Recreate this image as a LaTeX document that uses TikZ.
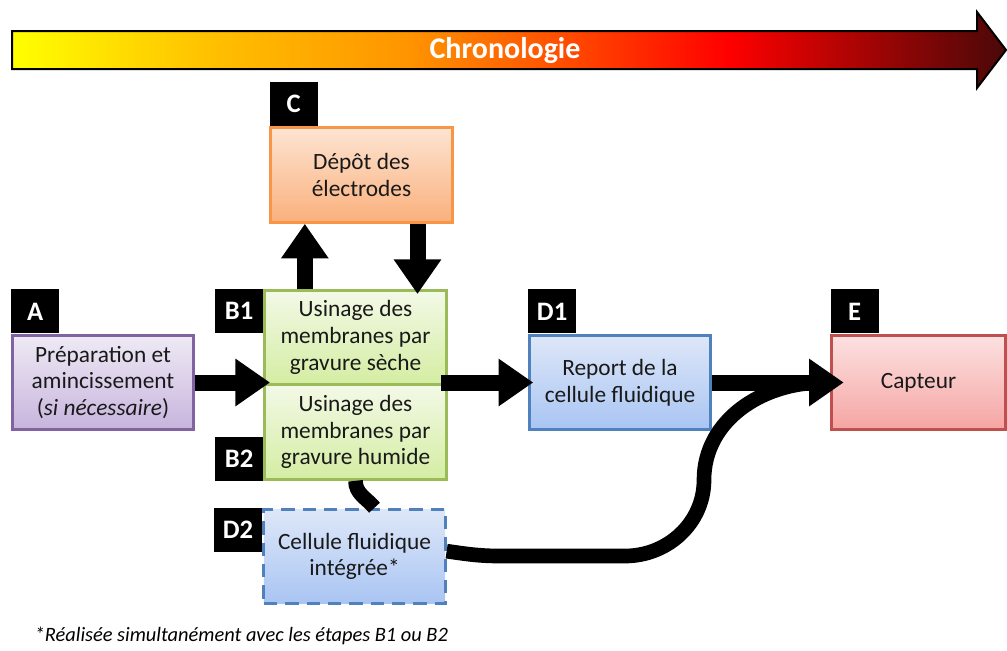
\documentclass[tikz,border=0pt]{standalone}
\usepackage{fontspec}
\setmainfont{Carlito}
\usetikzlibrary{arrows.meta,positioning}

\definecolor{chJaune}{HTML}{FFFF00}
\definecolor{chAmbre}{HTML}{FFC000}
\definecolor{chOrange}{HTML}{FF9400}
\definecolor{chRouge}{HTML}{FF0000}
\definecolor{chSombre}{HTML}{4A0808}
\pgfdeclarehorizontalshading{chrono}{100bp}{color(0bp)=(chJaune); color(25bp)=(chJaune); color(35bp)=(chAmbre); color(45bp)=(chOrange); color(61bp)=(chRouge); color(75bp)=(chSombre); color(100bp)=(chSombre)}

\tikzset{
    etape/.style={draw, line width=2.2pt, minimum width=136pt, minimum height=71pt, inner sep=2pt,
        align=center, text=black!90, font=\fontsize{17.5}{20}\selectfont},
    etiquette/.style={fill=black, text=white, minimum width=36pt, minimum height=33pt, inner sep=0pt,
        font=\fontsize{20}{22}\selectfont\bfseries},
    fleche/.style={line width=12pt, -{Triangle[length=26pt,width=34pt]}},
    lien/.style={line width=11pt},
    orange/.style={etape, draw={rgb,255:red,247;green,150;blue,70}, top color={rgb,255:red,253;green,228;blue,210}, bottom color={rgb,255:red,250;green,176;blue,124}},
    violet/.style={etape, draw={rgb,255:red,128;green,100;blue,162}, top color={rgb,255:red,239;green,234;blue,245}, bottom color={rgb,255:red,199;green,180;blue,221}},
    vert/.style={etape, draw={rgb,255:red,155;green,187;blue,89}, top color={rgb,255:red,243;green,249;blue,231}, bottom color={rgb,255:red,212;green,237;blue,162}},
    bleu/.style={etape, draw={rgb,255:red,79;green,129;blue,189}, top color={rgb,255:red,222;green,231;blue,248}, bottom color={rgb,255:red,169;green,197;blue,243}},
    rouge/.style={etape, draw={rgb,255:red,192;green,80;blue,77}, top color={rgb,255:red,252;green,225;blue,225}, bottom color={rgb,255:red,245;green,165;blue,163}},
}

\begin{document}
\begin{tikzpicture}[x=0.75pt, y=-0.75pt]
    \useasboundingbox (0,0) rectangle (1007,650);
    % frise
    \shadedraw[shading=chrono, draw=black, line width=1.5pt, line join=miter]
        (12,31) -- (977,31) -- (977,12) -- (1006,50) -- (977,88) -- (977,69) -- (12,69) -- cycle;
    \node[text=white, font=\fontsize{22.5}{24}\selectfont\bfseries] (chrono) at (505,51) {Chronologie};

    \node[orange] (C) at (361.5,175) {Dépôt des\\électrodes};
    \node[violet] (A) at (103,382.5) {Préparation et\\amincissement\\(\textit{si nécessaire})};
    \node[vert] (B1) at (355.5,337.5) {Usinage des\\membranes par\\gravure sèche};
    \node[vert] (B2) at (355.5,432) {Usinage des\\membranes par\\gravure humide};
    \node[bleu] (D1) at (620,382.5) {Report de la\\cellule fluidique};
    \node[rouge, minimum width=130pt] (E) at (918.5,382.5) {Capteur};
    \node[bleu, dash pattern=on 10pt off 6pt] (D2) at (354.5,556.5) {Cellule fluidique\\intégrée*};

    \node[etiquette, above right=0pt of C.north west] (tC) {C};
    \node[etiquette, above right=0pt of A.north west] (tA) {A};
    \node[etiquette, below left=0pt of B1.north west] (tB1) {B1};
    \node[etiquette, above left=0pt of B2.south west] (tB2) {B2};
    \node[etiquette, above right=0pt of D1.north west] (tD1) {D1};
    \node[etiquette, above right=0pt of E.north west] (tE) {E};
    \node[etiquette, below left=0pt of D2.north west] (tD2) {D2};

    \coordinate (k1) at (500,556);
    \coordinate (k2) at (625,556);
    \coordinate (k3) at (704,480);
    \draw[lien] (B2.south) to[out=-90, in=130] ([xshift=15pt]D2.north);
    \draw[lien] ([yshift=4pt]D2.east) to[out=-8, in=180] (k1) -- (k2)
        to[out=0, in=-90] (k3) to[out=90, in=180] ([xshift=-6pt]E.west);

    \draw[fleche] (A.east) -- ([xshift=5pt]A.east -| B1.west);
    \draw[fleche] ([xshift=-5pt]D1.west -| B1.east) -- ([xshift=4pt]D1.west);
    \draw[fleche] (D1.east) -- ([xshift=10pt]E.west);
    \draw[fleche] ([xshift=-38pt]B1.north) -- ([xshift=-38pt]B1.north |- C.south);
    \draw[fleche] ([xshift=42pt]C.south) -- ([xshift=42pt,yshift=-4pt]C.south |- B1.north);

    \node[anchor=west, font=\fontsize{15.3}{17}\selectfont\itshape] (note) at (30,636)
        {*Réalisée simultanément avec les étapes B1 ou B2};
\end{tikzpicture}
\end{document}
